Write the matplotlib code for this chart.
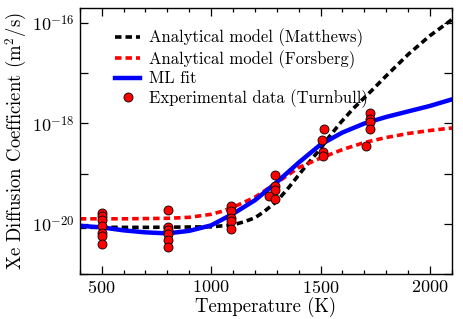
import numpy as np
import matplotlib
matplotlib.use("Agg")
import matplotlib.pyplot as plt
from matplotlib.ticker import FixedLocator, MultipleLocator, FuncFormatter

plt.rcParams["font.family"] = "serif"
plt.rcParams["font.serif"] = ["cmr10"]
plt.rcParams["mathtext.fontset"] = "cm"
plt.rcParams["axes.formatter.use_mathtext"] = True

# Analytical model (Matthews), log10 D
T_matthews = [400, 700, 1000, 1100, 1150, 1200, 1241, 1300, 1350, 1425, 1500,
              1533, 1594, 1650, 1732, 1800, 1901, 2000, 2100]
logD_matthews = [-20.07, -20.07, -20.06, -20.02, -19.96, -19.88, -19.76, -19.55,
                 -19.30, -18.89, -18.50, -18.30, -17.97, -17.70, -17.35, -17.05,
                 -16.62, -16.25, -15.93]

# Analytical model (Forsberg)
T_forsberg = [400, 600, 800, 900, 1000, 1050, 1100, 1200, 1300, 1400, 1500,
              1600, 1700, 1800, 1900, 2000, 2100]
logD_forsberg = [-19.90, -19.90, -19.89, -19.87, -19.81, -19.75, -19.67, -19.47,
                 -19.18, -18.88, -18.69, -18.52, -18.38, -18.28, -18.20, -18.14,
                 -18.09]

# ML fit
T_ml = [400, 500, 600, 700, 800, 900, 1000, 1100, 1200, 1300, 1400, 1500,
        1600, 1700, 1800, 1900, 2000, 2100]
logD_ml = [-20.04, -20.07, -20.13, -20.17, -20.19, -20.14, -20.03, -19.80,
           -19.53, -19.17, -18.78, -18.42, -18.18, -18.00, -17.87, -17.76,
           -17.65, -17.52]

# Experimental data (Turnbull)
T_exp = [500, 500, 500, 500, 500, 500, 500,
         805, 805, 805, 805, 805, 805,
         1092, 1092, 1092, 1092, 1092,
         1291, 1291, 1291, 1264, 1291,
         1515, 1505, 1510, 1510,
         1724, 1724, 1724, 1724, 1709]
logD_exp = [-19.78, -19.84, -19.92, -20.05, -20.18, -20.25, -20.40,
            -19.72, -20.06, -20.12, -20.20, -20.33, -20.47,
            -19.65, -19.75, -19.88, -19.95, -20.10,
            -19.02, -19.25, -19.32, -19.44, -19.51,
            -18.12, -18.33, -18.57, -18.64,
            -17.80, -17.92, -17.98, -18.11, -18.44]

fig = plt.figure(figsize=(4.64, 3.19), dpi=100)
ax = fig.add_axes([0.172, 0.141, 0.802, 0.834])

dots = (0, (1.8, 1.1))
ax.plot(T_matthews, 10.0 ** np.array(logD_matthews), color="black", lw=2.6,
        linestyle=dots, label="Analytical model (Matthews)")
ax.plot(T_forsberg, 10.0 ** np.array(logD_forsberg), color="red", lw=2.6,
        linestyle=dots, label="Analytical model (Forsberg)")
ax.plot(T_ml, 10.0 ** np.array(logD_ml), color="blue", lw=3.2,
        label="ML fit")
ax.plot(T_exp, 10.0 ** np.array(logD_exp), "o", color="red", mec="black",
        mew=0.6, ms=6.5, label="Experimental data (Turnbull)")

ax.set_yscale("log")
ax.set_xlim(400, 2100)
ax.set_ylim(1e-21, 2e-16)

ax.xaxis.set_major_locator(FixedLocator([500, 1000, 1500, 2000]))
ax.xaxis.set_minor_locator(MultipleLocator(100))
ax.yaxis.set_major_locator(FixedLocator([10.0 ** k for k in range(-21, -15)]))
ax.yaxis.set_minor_locator(FixedLocator([]))


def ylab(v, pos):
    k = int(round(np.log10(v)))
    if k % 2 == 0:
        return r"$10^{%d}$" % k
    return ""


ax.yaxis.set_major_formatter(FuncFormatter(ylab))
ax.tick_params(which="both", direction="in", top=True, right=True,
               labelsize=13, width=0.9)
ax.tick_params(which="major", length=6)
ax.tick_params(which="minor", length=3)
for s in ax.spines.values():
    s.set_linewidth(1.0)

ax.set_xlabel("Temperature (K)", fontsize=13.5, labelpad=1)
ax.set_ylabel(r"Xe Diffusion Coefficient (m$^2$/s)", fontsize=13.5, labelpad=2)

ax.legend(loc="upper left", bbox_to_anchor=(0.068, 0.96), frameon=False,
          fontsize=12, handlelength=1.5, handletextpad=0.55,
          labelspacing=0.15, borderaxespad=0.2)

fig.savefig("out.png", dpi=100)
